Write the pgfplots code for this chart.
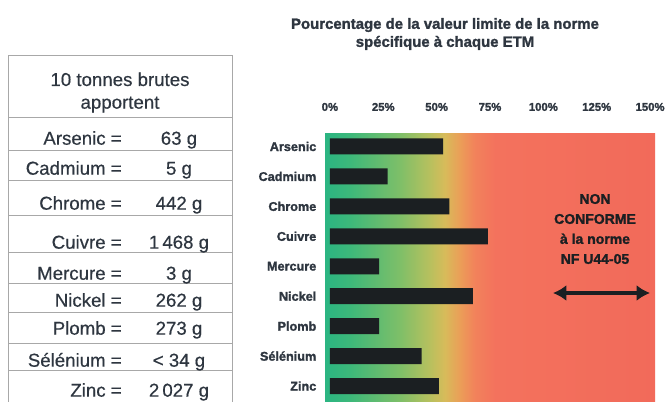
\documentclass[border=0pt]{standalone}
\usepackage{fontspec}
\setmainfont{Liberation Sans}
\newfontfamily\heavy[FakeBold=1.6]{Liberation Sans}
\newfontfamily\tbl[FakeBold=0.5]{Liberation Sans}
\usepackage{pgfplots}
\pgfplotsset{compat=1.18}
\usetikzlibrary{arrows.meta}
\definecolor{slate}{HTML}{2e3640}
\definecolor{tblgrey}{HTML}{a8a8a8}
\definecolor{barblack}{HTML}{1b1f22}
\definecolor{g1}{HTML}{2bb582}
\definecolor{g2}{HTML}{3db87a}
\definecolor{g3}{HTML}{7fbf68}
\definecolor{g4}{HTML}{b8c05e}
\definecolor{g5}{HTML}{d8bb5a}
\definecolor{g6}{HTML}{eb9d58}
\definecolor{g7}{HTML}{f2825b}
\definecolor{g8}{HTML}{f3725d}
\definecolor{g9}{HTML}{f26a5a}
% green -> yellow -> red, 25bp..75bp is the visible part
\pgfdeclarehorizontalshading{etm}{100bp}{color(0bp)=(g1); color(25bp)=(g1);
  color(28.8bp)=(g2); color(36.4bp)=(g3); color(40.9bp)=(g4); color(43.2bp)=(g5);
  color(45.5bp)=(g6); color(47.7bp)=(g7); color(50.8bp)=(g8); color(75bp)=(g9);
  color(100bp)=(g9)}

\begin{document}
\begin{tikzpicture}[x=0.75pt,y=0.75pt]
\useasboundingbox (0,0) rectangle (672,401);
\coordinate (axpos) at (325,268);

% table on the left
\draw[tblgrey,line width=0.6pt] (8,-5) -- (8,346) -- (232,346) -- (232,-5);
\foreach \yy in {284,251,221,186,149,118,89,58,31}
  \draw[tblgrey,line width=0.6pt] (8,\yy) -- (232,\yy);
\node[slate,font=\tbl\fontsize{14}{17}\selectfont,align=center] at (120,308.5)
  {10 tonnes brutes\\apportent};
\begin{scope}[every node/.style={slate,font=\tbl\fontsize{14}{17}\selectfont,inner sep=0pt}]
\foreach \nm/\val/\yy in {Arsenic/63 g/263, Cadmium/5 g/233, Chrome/442 g/198,
    Cuivre/1\,468 g/159, Mercure/3 g/128, Nickel/262 g/101, Plomb/273 g/73,
    Sélénium/< 34 g/41, Zinc/2\,027 g/11} {
  \node[anchor=base east] at (122,\yy-6.7) {\nm\ =};
  \node[anchor=base] at (179,\yy-6.7) {\val};
}
\end{scope}

% title
\node[slate,font=\heavy\bfseries\fontsize{11.2}{13.5}\selectfont,align=center] at (445,367)
  {Pourcentage de la valeur limite de la norme\\spécifique à chaque ETM};

\begin{axis}[
  at={(axpos)}, anchor=north west,
  width=247.5pt, height=201pt, scale only axis,
  xmin=-2.3, xmax=152.3,
  ymin=-0.45, ymax=8.5, y dir=reverse,
  xtick={0,25,50,75,100,125,150},
  xticklabels={0\%,25\%,50\%,75\%,100\%,125\%,150\%},
  xticklabel pos=upper,
  xticklabel style={font=\heavy\bfseries\fontsize{8.5}{10}\selectfont,color=slate,yshift=13pt},
  ytick={0,...,8},
  yticklabels={Arsenic,Cadmium,Chrome,Cuivre,Mercure,Nickel,Plomb,Sélénium,Zinc},
  yticklabel style={font=\heavy\bfseries\fontsize{9.5}{11}\selectfont,color=slate,xshift=-3pt},
  major tick length=0pt,
  axis line style={draw=none},
  axis background/.style={shade,shading=etm},
  clip=false,
]
\addplot[xbar, bar width=12pt, fill=barblack, draw=none] coordinates {
  (53,0) (27,1) (56,2) (74,3) (23,4) (67,5) (23,6) (43,7) (51,8)
};
\end{axis}

% NON CONFORME note
\node[barblack,font=\heavy\bfseries\fontsize{10.5}{15}\selectfont,align=center] at (595,172)
  {NON\\CONFORME\\à la norme\\NF U44-05};
\draw[barblack,line width=2.4pt,{Latex[length=10pt,width=12pt]}-{Latex[length=10pt,width=12pt]}]
  (553,108) -- (650,108);
\end{tikzpicture}
\end{document}
